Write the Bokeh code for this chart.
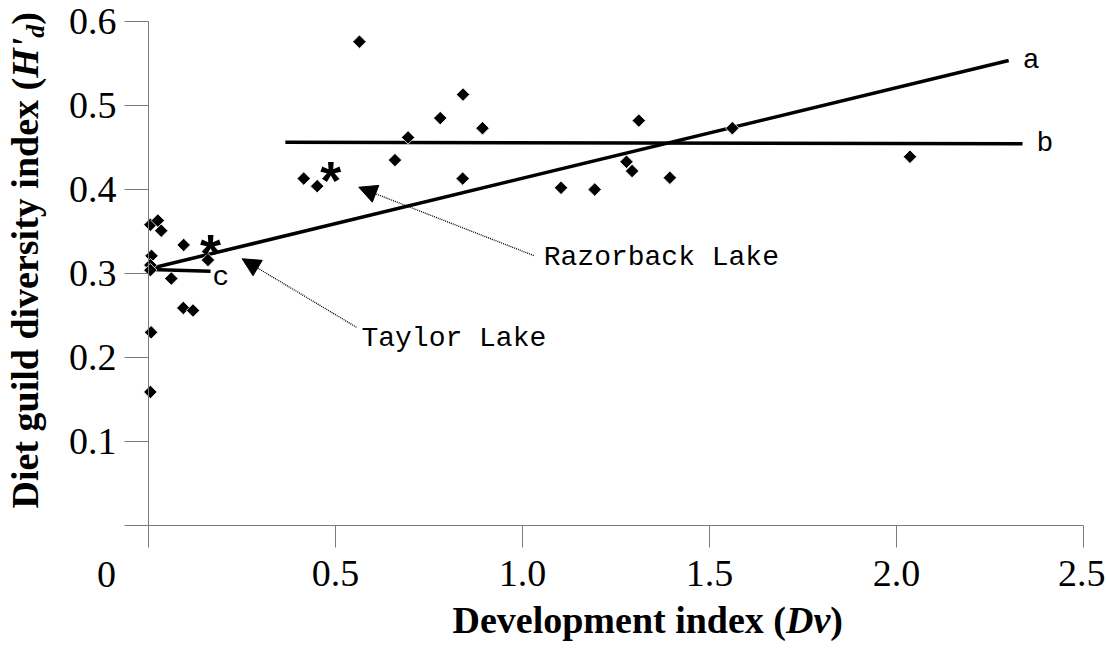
from bokeh.plotting import figure
from bokeh.models import Range1d, FixedTicker, Arrow, NormalHead, Label
from bokeh.embed import file_html
from bokeh.resources import INLINE
from bokeh.core.properties import value

# ---------------- data ----------------
lake_dv = [0.005, 0.025, 0.034, 0.094, 0.008, 0.005, 0.005, 0.061, 0.159,
           0.093, 0.119, 0.007, 0.005,
           0.415, 0.451, 0.564, 0.659, 0.694, 0.780, 0.840, 0.841, 0.893,
           1.103, 1.193, 1.278, 1.293, 1.311, 1.394, 1.561, 2.036]
lake_hd = [0.358, 0.363, 0.351, 0.334, 0.321, 0.310, 0.304, 0.294, 0.316,
           0.259, 0.256, 0.230, 0.159,
           0.413, 0.404, 0.576, 0.435, 0.462, 0.485, 0.413, 0.513, 0.473,
           0.402, 0.400, 0.433, 0.422, 0.482, 0.414, 0.473, 0.439]

star_names = ["Razorback Lake", "Taylor Lake"]
star_dv = [0.487, 0.166]
star_hd = [0.419, 0.331]

line_a_dv = [0.005, 2.300]
line_a_hd = [0.306, 0.5536]
line_b_dv = [0.366, 2.337]
line_b_hd = [0.4563, 0.4544]
line_c_dv = [0.005, 0.166]
line_c_hd = [0.3048, 0.3028]
line_names = ["a", "b", "c"]

x_ticks = [0, 0.5, 1.0, 1.5, 2.0, 2.5]
x_tick_labels = ["0", "0.5", "1.0", "1.5", "2.0", "2.5"]
y_ticks = [0, 0.1, 0.2, 0.3, 0.4, 0.5, 0.6]
y_tick_labels = ["", "0.1", "0.2", "0.3", "0.4", "0.5", "0.6"]

# canvas geometry: data (0,0) at canvas px (148, 525); 374 px per x unit, 840 px per y unit
W, H = 1105, 654
X0, Y0, SX, SY = 148.0, 525.0, 374.0, 840.0
PX_X = 1.0 / SX
PX_Y = 1.0 / SY

p = figure(width=W, height=H,
           x_range=Range1d(-X0 / SX, (W - X0) / SX),
           y_range=Range1d(-(H - Y0) / SY, Y0 / SY),
           output_backend="svg", toolbar_location=None,
           min_border=0, min_border_left=0, min_border_right=0,
           min_border_top=0, min_border_bottom=0)
p.outline_line_color = None
p.grid.visible = False
p.background_fill_color = "white"
p.border_fill_color = "white"

AXIS_GREY = "#7a7a7a"
for ax in (p.xaxis[0], p.yaxis[0]):
    ax.fixed_location = 0
    ax.axis_line_color = AXIS_GREY
    ax.axis_line_width = 1
    ax.major_tick_line_color = AXIS_GREY
    ax.major_tick_in = 0
    ax.minor_tick_line_color = None
    ax.major_label_text_font = "Liberation Serif"
    ax.major_label_text_font_size = "38px"
    ax.major_label_text_color = "black"

p.xaxis.bounds = (x_ticks[0], x_ticks[-1])
p.xaxis.ticker = FixedTicker(ticks=x_ticks)
x_over = {t: l for t, l in zip(x_ticks, x_tick_labels)}
x_over[0] = ""
p.xaxis.major_label_overrides = x_over
p.xaxis.major_tick_out = 22
p.xaxis.major_label_standoff = 13

p.yaxis.bounds = (y_ticks[0], y_ticks[-1])
p.yaxis.ticker = FixedTicker(ticks=y_ticks)
p.yaxis.major_label_overrides = {t: l for t, l in zip(y_ticks, y_tick_labels)}
p.yaxis.major_tick_out = 24
p.yaxis.major_label_standoff = 8

# "0" label of x axis sits left of its tick in the original
p.add_layout(Label(x=x_ticks[0] - 42 * PX_X, y=-49 * PX_Y, text=x_tick_labels[0],
                   text_font="Liberation Serif", text_font_size="38px",
                   text_align="center", text_baseline="alphabetic", text_color="black"))

# regression lines
for xs, ys in ((line_a_dv, line_a_hd), (line_b_dv, line_b_hd), (line_c_dv, line_c_hd)):
    p.line(xs, ys, line_color="black", line_width=3.5)

# points
p.scatter(lake_dv, lake_hd, marker="square", angle=0.785398, size=9.5,
          fill_color="black", line_color="white", line_width=0.8)

# stars
p.text(x=star_dv, y=star_hd, text=["*"] * len(star_dv), text_font=value("Liberation Sans"),
       text_font_style="bold", text_font_size="54px", text_align="center",
       text_baseline="middle", y_offset=6, text_color="black")

# line labels
mono = value("Liberation Mono")
p.text(x=[line_a_dv[1], line_b_dv[1]], y=[line_a_hd[1], line_b_hd[1]], text=line_names[:2],
       text_font=mono, text_font_size="28px", text_align="left", text_baseline="middle",
       x_offset=14, text_color="black")
p.text(x=[line_c_dv[1]], y=[line_c_hd[1]], text=line_names[2:], text_font=mono,
       text_font_size="28px", text_align="left", text_baseline="middle",
       x_offset=2, y_offset=6, text_color="black")

# arrows and lake labels
raz_tail = (1.030, 0.3214)
tay_tail = (0.556, 0.236)
raz_tip = (0.5623, 0.4027)
tay_tip = (0.2505, 0.3175)
for tail, tip in ((raz_tail, raz_tip), (tay_tail, tay_tip)):
    p.add_layout(Arrow(end=NormalHead(size=18, fill_color="black", line_color="black"),
                       x_start=tail[0], y_start=tail[1], x_end=tip[0], y_end=tip[1],
                       line_dash="1 1", line_width=1.3, line_color="black"))

p.text(x=[raz_tail[0], tay_tail[0]], y=[raz_tail[1], tay_tail[1]], text=star_names,
       text_font=mono, text_font_size="28px", text_align="left", text_baseline="middle",
       x_offset=[10, 5], y_offset=[2, 11], text_color="black")

# y axis title (mixed styles)
yx = (24 - X0) * PX_X
pos = (Y0 - 508) * PX_Y
yparts = [("Diet guild diversity index (", "bold", "38px", 430.7, 0),
          ("H'", "bold italic", "38px", 40.1, 0),
          ("d", "bold italic", "26px", 13.0, 11),
          (")", "bold", "38px", 12.7, 0)]
for txt, style, size, w, shift in yparts:
    p.add_layout(Label(x=yx + shift * PX_X, y=pos, text=txt, angle=90, angle_units="deg",
                       text_font="Liberation Serif", text_font_style=style, text_font_size=size,
                       text_align="left", text_baseline="alphabetic", text_color="black"))
    pos += w * PX_Y

# x axis title (mixed styles)
xy = (Y0 - 619) * PX_Y
xpos = (452 - X0) * PX_X
xparts = [("Development index (", "bold", 333.5),
          ("Dv", "bold italic", 44.3),
          (")", "bold", 12.7)]
for txt, style, w in xparts:
    p.add_layout(Label(x=xpos, y=xy, text=txt, text_font="Liberation Serif",
                       text_font_style=style, text_font_size="38px",
                       text_align="left", text_baseline="alphabetic", text_color="black"))
    xpos += w * PX_X

open("out.html", "w").write(file_html(p, INLINE))
